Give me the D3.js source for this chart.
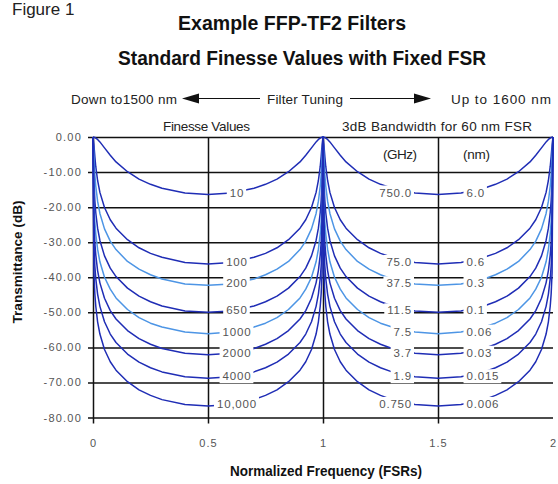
<!DOCTYPE html>
<html>
<head>
<meta charset="utf-8">
<script src="https://cdn.jsdelivr.net/npm/d3@7"></script>
<style>
  html, body { margin: 0; padding: 0; background: #fff; }
  svg text { font-family: "Liberation Sans", Arial, Helvetica, sans-serif; }
</style>
</head>
<body>
<div id="root"></div>
<script>
// transmission peaks sit at whole FSRs; each curve is read at these distances from a peak (FSR)
const peakPositions = [0, 1, 2];
const peakOffsets = [0, 0.004, 0.008, 0.012, 0.02, 0.03, 0.05, 0.075, 0.1, 0.15, 0.2, 0.25, 0.3, 0.4, 0.5];

const finesseLabels = ['10', '100', '200', '650', '1000', '2000', '4000', '10,000'];
const bandwidthGHz = ['750.0', '75.0', '37.5', '11.5', '7.5', '3.7', '1.9', '0.750'];
const bandwidthNm = ['6.0', '0.6', '0.3', '0.1', '0.06', '0.03', '0.015', '0.006'];

// transmittance (dB) at each peak offset
const dbFinesse10 = [0, -0.03, -0.1, -0.3, -0.7, -1.4, -3.1, -5.2, -7.1, -9.9, -12.0, -13.5, -14.6, -16.0, -16.4];
const dbFinesse100 = [0, -2.2, -5.6, -8.4, -12.4, -15.8, -20.1, -23.6, -26.0, -29.3, -31.6, -33.2, -34.3, -35.8, -36.2];
const dbFinesse200 = [0, -5.7, -10.7, -14.0, -18.3, -21.8, -26.2, -29.7, -32.1, -35.5, -37.7, -39.3, -40.5, -41.9, -42.3];
const dbFinesse650 = [0, -12.3, -18.1, -21.6, -26.0, -29.5, -33.9, -37.4, -39.8, -43.1, -45.4, -47.0, -48.2, -49.6, -50.0];
const dbFinesse1000 = [0, -18.1, -24.1, -27.6, -32.0, -35.6, -40.0, -43.4, -45.9, -49.2, -51.5, -53.1, -54.2, -55.6, -56.1];
const dbFinesse2000 = [0, -24.1, -30.1, -33.6, -38.1, -41.6, -46.0, -49.5, -51.9, -55.2, -57.5, -59.1, -60.3, -61.7, -62.1];
const dbFinesse4000 = [0, -30.8, -36.8, -40.3, -44.8, -48.3, -52.7, -56.2, -58.6, -61.9, -64.2, -65.8, -67.0, -68.4, -68.8];
const dbFinesse10000 = [0, -38.7, -44.7, -48.2, -52.7, -56.2, -60.6, -64.1, -66.5, -69.8, -72.1, -73.7, -74.9, -76.3, -76.7];

const curveValues = [dbFinesse10, dbFinesse100, dbFinesse200, dbFinesse650,
  dbFinesse1000, dbFinesse2000, dbFinesse4000, dbFinesse10000];

const yTickValues = [0, -10, -20, -30, -40, -50, -60, -70, -80];
const xTickValues = [0, 0.5, 1, 1.5, 2];

const width = 558;
const height = 484;
const plot = { left: 93, right: 553, top: 137, bottom: 417.5 };

const svg = d3.select('#root').append('svg')
  .attr('width', width)
  .attr('height', height);

const xScale = d3.scaleLinear().domain([0, 2]).range([plot.left, plot.right]);
const yScale = d3.scaleLinear().domain([-80, 0]).range([plot.bottom, plot.top]);

const colorScale = d3.scaleOrdinal()
  .domain(finesseLabels)
  .range(['#1f2db5', '#1f2db5', '#4d95e5', '#1f2db5', '#4d95e5', '#1f2db5', '#1f2db5', '#1f2db5']);

// titles
svg.append('text')
  .attr('x', 12).attr('y', 14.5)
  .attr('font-size', 17).attr('fill', '#222')
  .text('Figure 1');

const titles = svg.append('g').attr('font-weight', 'bold').attr('font-size', 20).attr('fill', '#111');
titles.append('text')
  .attr('x', 178).attr('y', 30)
  .attr('textLength', 228).attr('lengthAdjust', 'spacingAndGlyphs')
  .text('Example FFP-TF2 Filters');
titles.append('text')
  .attr('x', 118).attr('y', 65)
  .attr('textLength', 368).attr('lengthAdjust', 'spacingAndGlyphs')
  .text('Standard Finesse Values with Fixed FSR');

// header row with tuning arrows
const header = svg.append('g').attr('font-size', 13.5).attr('fill', '#222');
[
  { text: 'Down to1500 nm', x: 71, y: 104, w: 106 },
  { text: 'Filter Tuning', x: 267, y: 104, w: 76 },
  { text: 'Up to 1600 nm', x: 451, y: 104, w: 100 },
  { text: 'Finesse Values', x: 163, y: 131, w: 87 },
  { text: '3dB Bandwidth for 60 nm FSR', x: 342, y: 131, w: 190 },
  { text: '(GHz)', x: 383, y: 159, w: 34 },
  { text: '(nm)', x: 463, y: 159, w: 27 },
].forEach(d => {
  header.append('text')
    .attr('x', d.x).attr('y', d.y)
    .attr('textLength', d.w).attr('lengthAdjust', 'spacing')
    .text(d.text);
});

const arrows = svg.append('g').attr('fill', '#111').attr('stroke', '#111');
arrows.append('line').attr('x1', 197).attr('x2', 260).attr('y1', 98.5).attr('y2', 98.5).attr('stroke-width', 1.2);
arrows.append('path').attr('d', 'M182,98.5 L199,93.5 L199,103.5 Z').attr('stroke', 'none');
arrows.append('line').attr('x1', 350).attr('x2', 415).attr('y1', 98.5).attr('y2', 98.5).attr('stroke-width', 1.2);
arrows.append('path').attr('d', 'M431,98.5 L414,93.5 L414,103.5 Z').attr('stroke', 'none');

// grid + axes
const chart = svg.append('g');

chart.append('g')
  .attr('transform', `translate(${plot.left},0)`)
  .call(d3.axisLeft(yScale)
    .tickValues(yTickValues)
    .tickSize(-(plot.right - plot.left))
    .tickFormat(d => d.toFixed(2)))
  .call(g => g.select('.domain').remove())
  .call(g => g.selectAll('.tick line').attr('x1', -5).attr('stroke', '#111').attr('stroke-width', 1.5))
  .call(g => g.selectAll('.tick text')
    .attr('x', -11)
    .attr('font-size', 11)
    .attr('letter-spacing', 1.2)
    .attr('fill', '#555'));

chart.append('g')
  .attr('transform', `translate(0,${plot.bottom})`)
  .call(d3.axisBottom(xScale)
    .tickValues(xTickValues)
    .tickSize(-(plot.bottom - plot.top))
    .tickPadding(22)
    .tickFormat(d => String(d)))
  .call(g => g.select('.domain').remove())
  .call(g => g.selectAll('.tick line').attr('y1', 6).attr('stroke', '#111').attr('stroke-width', 1.5))
  .call(g => g.selectAll('.tick').filter(d => d === 2).select('line').remove())
  .call(g => g.selectAll('.tick text')
    .attr('font-size', 11)
    .attr('letter-spacing', 1)
    .attr('fill', '#555'));

// axis titles
svg.append('text')
  .attr('transform', 'translate(22,262) rotate(-90)')
  .attr('text-anchor', 'middle')
  .attr('font-weight', 'bold').attr('font-size', 13).attr('fill', '#111')
  .attr('textLength', 123).attr('lengthAdjust', 'spacingAndGlyphs')
  .text('Transmittance (dB)');

svg.append('text')
  .attr('x', 326).attr('y', 476)
  .attr('text-anchor', 'middle')
  .attr('font-weight', 'bold').attr('font-size', 14).attr('fill', '#111')
  .attr('textLength', 192).attr('lengthAdjust', 'spacingAndGlyphs')
  .text('Normalized Frequency (FSRs)');

// curves: mirror the read offsets around every peak
function curvePoints(values) {
  const pts = [];
  peakPositions.forEach(p => {
    peakOffsets.forEach((d, i) => {
      pts.push({ x: p - d, y: values[i] });
      pts.push({ x: p + d, y: values[i] });
    });
  });
  const kept = pts.filter(d => d.x >= 0 && d.x <= 2).sort((a, b) => a.x - b.x);
  return kept.filter((d, i) => i === 0 || Math.abs(d.x - kept[i - 1].x) > 1e-9);
}

const line = d3.line()
  .x(d => xScale(d.x))
  .y(d => yScale(d.y));

chart.append('g')
  .selectAll('path')
  .data(curveValues)
  .enter()
  .append('path')
  .attr('d', d => line(curvePoints(d)))
  .attr('fill', 'none')
  .attr('stroke', (d, i) => colorScale(finesseLabels[i]))
  .attr('stroke-width', 1.5)
  .attr('stroke-linejoin', 'round');

// curve labels with white boxes that break the lines
const labels = svg.append('g').attr('font-size', 11.5).attr('fill', '#555').attr('letter-spacing', 0.8);

function addLabel(text, x, y, anchor) {
  const g = labels.append('g');
  const t = g.append('text')
    .attr('x', x).attr('y', y)
    .attr('dy', '0.36em')
    .attr('text-anchor', anchor)
    .text(text);
  const box = t.node().getBBox();
  g.insert('rect', 'text')
    .attr('x', box.x - 3)
    .attr('y', y - 7)
    .attr('width', box.width + 5)
    .attr('height', 14)
    .attr('fill', '#fff');
}

curveValues.forEach((values, i) => {
  const rowY = yScale(d3.min(values)) - 2;
  addLabel(finesseLabels[i], xScale(0.626), rowY, 'middle');
  addLabel(bandwidthGHz[i], xScale(1.387), rowY, 'end');
  addLabel(bandwidthNm[i], xScale(1.624), rowY, 'start');
});
</script>
</body>
</html>
